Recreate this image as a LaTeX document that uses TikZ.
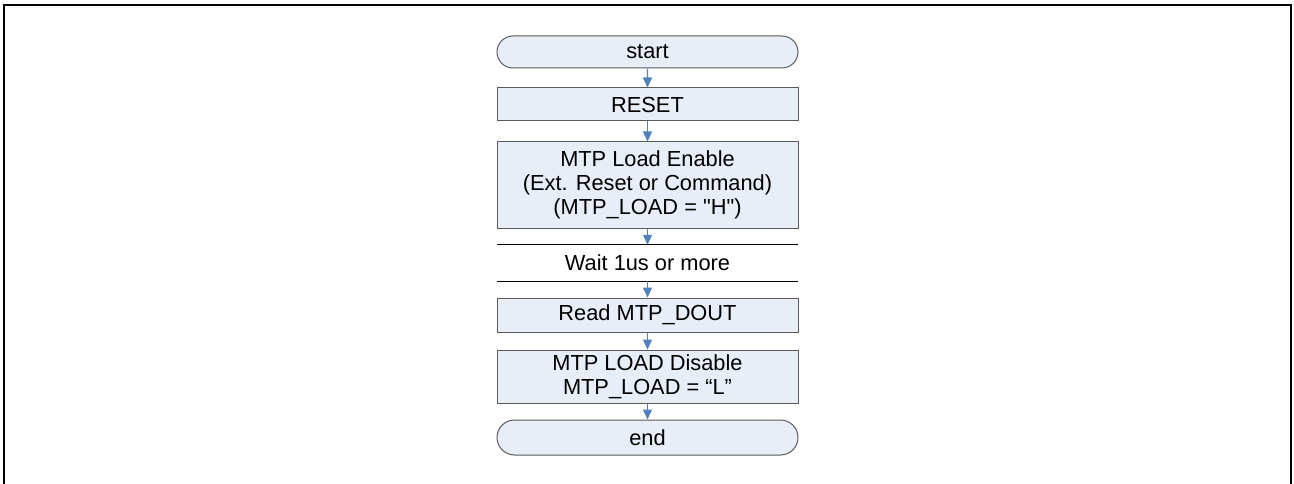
\documentclass[tikz,border=0pt]{standalone}
\usepackage{fontspec}
\setmainfont{Liberation Sans}[Ligatures=TeXOff]
\usetikzlibrary{arrows.meta,shapes.misc}
\definecolor{boxfill}{RGB}{232,238,247}
\definecolor{boxline}{RGB}{90,90,90}
\definecolor{arrowblue}{RGB}{79,129,189}
\begin{document}
\begin{tikzpicture}[x=1pt,y=-1pt,
  every node/.style={font=\fontsize{21.8}{24}\selectfont, align=center, inner sep=0pt},
  procbox/.style={draw=boxline, fill=boxfill, line width=1pt, minimum width=301pt},
  termbox/.style={draw=boxline, fill=boxfill, line width=1pt, minimum width=301pt, rounded rectangle},
  flow/.style={draw=arrowblue, line width=1.2pt, -{Triangle[width=9pt,length=10pt]}}]
\useasboundingbox (0,0) rectangle (1294,484);
\draw[line width=2.5pt] (4,484) -- (4,5) -- (1291,5) -- (1291,484);
\node[termbox, minimum height=32pt] (start) at (647.5,52) {start};
\node[procbox, minimum height=33pt] (reset) at (647.5,104.5) {RESET};
\node[procbox, minimum height=86pt] (enable) at (647.5,185) {MTP Load Enable\\(Ext. Reset or Command)\\(MTP\_LOAD = "H")};
\node[minimum width=301pt, minimum height=36pt] (wait) at (647.5,263) {Wait 1us or more};
\draw[line width=0.8pt] (wait.north west) -- (wait.north east);
\draw[line width=0.8pt] (wait.south west) -- (wait.south east);
\node[procbox, minimum height=34pt] (read) at (647.5,315) {Read MTP\_DOUT};
\node[procbox, minimum height=53pt] (disable) at (647.5,376.5) {MTP LOAD Disable\\MTP\_LOAD = “L”};
\node[termbox, minimum height=35pt] (end) at (647.5,437.5) {end};
\draw[flow] (start) -- (reset);
\draw[flow] (reset) -- (enable);
\draw[flow] (enable) -- (wait);
\draw[flow] (wait) -- (read);
\draw[flow] (read) -- (disable);
\draw[flow] (disable) -- (end);
\end{tikzpicture}
\end{document}
